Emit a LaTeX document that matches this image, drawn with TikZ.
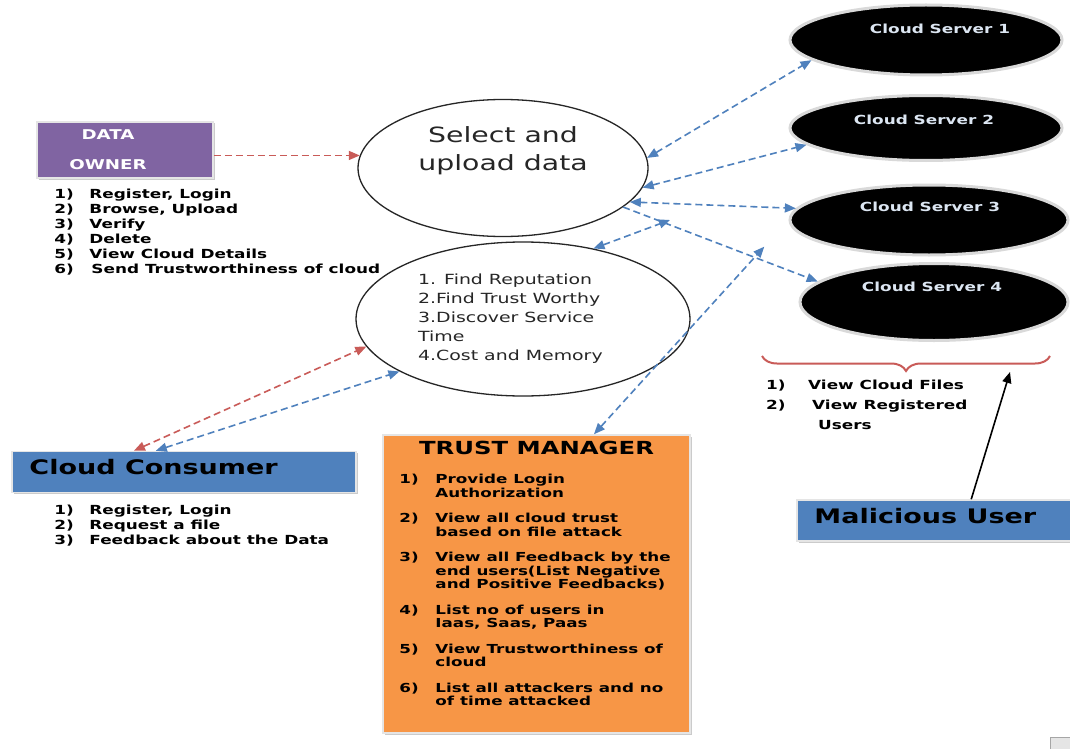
\documentclass[tikz,border=0pt]{standalone}
\usepackage{fontspec}
\newfontfamily\wide[FakeStretch=1.35]{DejaVu Sans}
\usetikzlibrary{shapes.geometric, arrows.meta, positioning, decorations.pathreplacing, shadows}

\definecolor{ownerpurple}{HTML}{8064A2}
\definecolor{boxblue}{HTML}{4F81BD}
\definecolor{tmorange}{HTML}{F79646}
\definecolor{linkred}{HTML}{C95B58}
\definecolor{linkblue}{HTML}{4F81BD}
\definecolor{cstext}{HTML}{DCE6F2}

\tikzstyle{ownerbox} = [rectangle, minimum width=176pt, minimum height=56pt, fill=ownerpurple, draw=black!10, line width=1.5pt, drop shadow={shadow xshift=1.5pt, shadow yshift=-1.5pt, fill=black!40}]
\tikzstyle{bluebox} = [rectangle, minimum height=41pt, fill=boxblue, draw=black!10, line width=1.5pt, drop shadow={shadow xshift=1.5pt, shadow yshift=-1.5pt, fill=black!40}]
\tikzstyle{tmbox} = [rectangle, minimum width=307pt, minimum height=298pt, fill=tmorange, draw=black!10, line width=1.5pt, drop shadow={shadow xshift=1.5pt, shadow yshift=-1.5pt, fill=black!40}]
\tikzstyle{bubble} = [ellipse, draw=black!85, line width=1.3pt]
\tikzstyle{server} = [ellipse, fill=black, draw=black!15, line width=3pt]
\tikzstyle{ownertext} = [align=center, text=white, font=\wide\bfseries\fontsize{13.5}{30}\selectfont]
\tikzstyle{listtext} = [inner sep=0pt, align=left, font=\wide\bfseries\fontsize{12.5}{15}\selectfont]
\tikzstyle{headtext} = [inner sep=0pt, font=\wide\bfseries\fontsize{20}{24}\selectfont]
\tikzstyle{servertext} = [inner sep=0pt, text=cstext, font=\wide\bfseries\fontsize{12.5}{15}\selectfont]
\tikzstyle{bubbletext} = [inner sep=0pt, align=center, text=black!85, font=\wide\fontsize{21}{28}\selectfont]
\tikzstyle{findtext} = [inner sep=0pt, align=left, text=black!85, font=\wide\fontsize{14}{19}\selectfont]
\tikzstyle{redlink} = [draw=linkred, line width=1.6pt, dash pattern=on 7pt off 4pt, >={Triangle[length=11pt,width=9pt]}]
\tikzstyle{bluelink} = [draw=linkblue, line width=1.6pt, dash pattern=on 7pt off 4pt, >={Triangle[length=11pt,width=9pt]}]
\tikzstyle{brace} = [decorate, decoration={brace, amplitude=15pt}, draw=linkred, line width=2pt]
\tikzstyle{malarrow} = [draw=black, line width=1.6pt, ->, >={Triangle[length=11pt,width=9pt]}]

\begin{document}
\begin{tikzpicture}[x=1pt, y=-1pt]

\path[fill=white] (0,0) rectangle (1070,749);
\useasboundingbox (0,0) rectangle (1070,749);

% Data owner
\node (owner) [ownerbox] at (125,150) {};
\node (ownertxt) [ownertext] at ([xshift=-17pt]owner.center) {DATA\\OWNER};
\node (ownerlist) [listtext, below right=9pt and 18pt of owner.south west] {%
\begin{tabular}{@{}p{35pt}@{}l@{}}
1) & Register, Login\\
2) & Browse, Upload\\
3) & Verify\\
4) & Delete\\
5) & View Cloud Details\\
6) & \hspace*{2pt}Send Trustworthiness of cloud
\end{tabular}};

% Two bubbles in the middle
\node (sel) [bubble, minimum width=290pt, minimum height=137pt] at (503,168) {};
\node (seltxt) [bubbletext] at ([yshift=17pt]sel.center) {Select and\\upload data};
\node (find) [bubble, minimum width=334pt, minimum height=154pt] at (523,319) {};
\node (findtxt) [findtext, anchor=north west] at ([xshift=-105pt, yshift=45pt]find.center) {1. Find Reputation\\2.Find Trust Worthy\\3.Discover Service\\Time\\4.Cost and Memory};

% Cloud servers
\node (cs1) [server, minimum width=272pt, minimum height=70pt] at (926,40) {};
\node (cs1txt) [servertext] at ([xshift=14pt, yshift=11pt]cs1.center) {Cloud Server 1};
\node (cs2) [server, minimum width=272pt, minimum height=65pt] at (926,128) {};
\node (cs2txt) [servertext] at ([xshift=-2pt, yshift=8pt]cs2.center) {Cloud Server 2};
\node (cs3) [server, minimum width=278pt, minimum height=70pt] at (929,220) {};
\node (cs3txt) [servertext] at ([xshift=1pt, yshift=13pt]cs3.center) {Cloud Server 3};
\node (cs4) [server, minimum width=268pt, minimum height=77pt] at (934,302) {};
\node (cs4txt) [servertext] at ([xshift=-2pt, yshift=15pt]cs4.center) {Cloud Server 4};

% Brace under the servers
\coordinate (braceR) at (1050,356);
\coordinate (braceL) at (762,356);
\draw [brace] (braceR) -- (braceL);
\node (brlist) [listtext, font=\wide\bfseries\fontsize{12.5}{20}\selectfont, below right=19pt and 4pt of braceL] {%
\begin{tabular}{@{}p{42pt}@{}l@{}}
1) & View Cloud Files\\
2) & \hspace*{4pt}View Registered\\
   & \hspace*{10pt}Users
\end{tabular}};

% Malicious user
\node (mal) [bluebox, minimum width=283pt] at (938.5,520.5) {};
\node (maltxt) [headtext, anchor=west] at ([xshift=18pt, yshift=4.5pt]mal.west) {Malicious User};
\coordinate (hit) at (1010,372);
\draw [malarrow] (mal.33) -- (hit);

% Cloud consumer
\node (consumer) [bluebox, minimum width=344pt] at (184,472) {};
\node (consumertxt) [headtext, anchor=west] at ([xshift=18pt, yshift=5pt]consumer.west) {Cloud Consumer};
\node (consumerlist) [listtext, below right=10.5pt and 43pt of consumer.south west] {%
\begin{tabular}{@{}p{35pt}@{}l@{}}
1) & Register, Login\\
2) & Request a file\\
3) & Feedback about the Data
\end{tabular}};

% Trust manager
\node (trust) [tmbox] at (536.5,584) {};
\node (trusttitle) [headtext, font=\wide\bfseries\fontsize{18}{22}\selectfont] at ([yshift=-14pt]trust.north) {TRUST MANAGER};
\node (trustlist) [listtext, font=\wide\bfseries\fontsize{12.4}{13.5}\selectfont, below right=40pt and 17pt of trust.north west] {%
\begin{tabular}{@{}p{36pt}@{}l@{}}
1) & Provide Login\\
   & Authorization\\[12pt]
2) & View all cloud trust\\
   & based on file attack\\[12pt]
3) & View all Feedback by the\\
   & end users(List Negative\\
   & and Positive Feedbacks)\\[12pt]
4) & List no of users in\\
   & Iaas, Saas, Paas\\[12pt]
5) & View Trustworthiness of\\
   & cloud\\[12pt]
6) & List all attackers and no\\
   & of time attacked
\end{tabular}};

% Links to the bubbles
\draw [redlink, ->] (owner.east |- sel.175) -- (sel.175);
\draw [redlink, <->] (consumer.157) -- (find.190);
\draw [bluelink, <->] (consumer.143) -- (find.203);

% Links to the servers
\draw [bluelink, <->] (sel.4) -- (cs1.190);
\draw [bluelink, <->] (sel.-8) -- (cs2.188);
\draw [bluelink, <->] (sel.-15) -- (cs3.175);
\draw [bluelink, ->] (sel.-18) -- (cs4.170);
\coordinate (midlink) at (670,220);
\draw [bluelink, <->] (find.45) -- (midlink);
\draw [bluelink, <->, shorten >=36pt] (trust.69) -- (cs3.west);

% corner mark
\draw [draw=black!35, fill=black!10] (1050,737) rectangle (1075,752);

\end{tikzpicture}
\end{document}
